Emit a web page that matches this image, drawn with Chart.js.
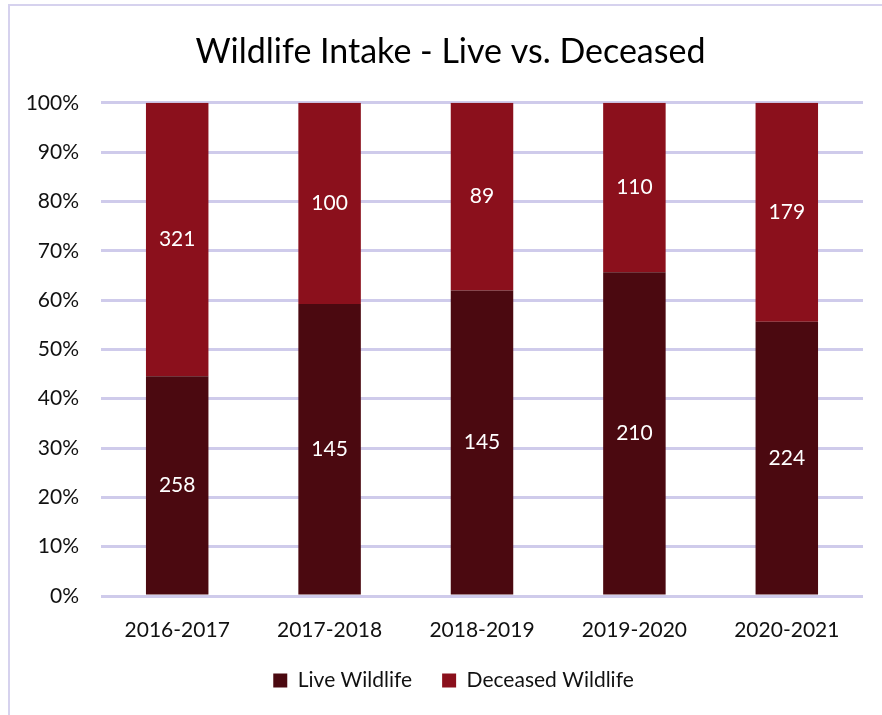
<!DOCTYPE html>
<html>
<head>
<meta charset="utf-8">
<title>Wildlife Intake</title>
<script src="https://cdn.jsdelivr.net/npm/chart.js@4.4.1/dist/chart.umd.min.js"></script>
<style>
  html, body { margin: 0; padding: 0; background: #fff; }
  #wrap { position: relative; width: 882px; height: 715px; }
</style>
</head>
<body>
<div id="wrap"><canvas id="grafico" width="882" height="715"></canvas></div>
<script>
const years = ['2016-2017', '2017-2018', '2018-2019', '2019-2020', '2020-2021'];
const liveWildlife = [258, 145, 145, 210, 224];
const deceasedWildlife = [321, 100, 89, 110, 179];
const yTicks = [0, 10, 20, 30, 40, 50, 60, 70, 80, 90, 100];

const FONT = 'Lato, "Open Sans", sans-serif';

// share of each year's total, so the stacks reach 100%
const totals = years.map((_, i) => liveWildlife[i] + deceasedWildlife[i]);
const livePct = liveWildlife.map((v, i) => v / totals[i] * 100);
const deceasedPct = deceasedWildlife.map((v, i) => v / totals[i] * 100);

// counts written in the middle of each segment
const countLabels = {
  id: 'countLabels',
  afterDatasetsDraw(chart) {
    const ctx = chart.ctx;
    const counts = [liveWildlife, deceasedWildlife];
    ctx.save();
    ctx.fillStyle = '#fff';
    ctx.font = '21px ' + FONT;
    ctx.textAlign = 'center';
    ctx.textBaseline = 'middle';
    chart.data.datasets.forEach((ds, d) => {
      chart.getDatasetMeta(d).data.forEach((bar, i) => {
        const mid = (bar.y + bar.base) / 2;
        ctx.fillText(String(counts[d][i]), bar.x, mid);
      });
    });
    ctx.restore();
  }
};

// thin frame around the chart
const frame = {
  id: 'frame',
  beforeDraw(chart) {
    const ctx = chart.ctx;
    ctx.save();
    ctx.strokeStyle = '#D6D2EE';
    ctx.lineWidth = 2;
    ctx.strokeRect(9, 5, 900, 750);
    ctx.restore();
  }
};

// title and legend sit a little right of the canvas centre
const nudge = {
  id: 'nudge',
  afterLayout(chart) {
    const shift = (box, dx) => { if (box) { box.left += dx; box.right += dx; } };
    shift(chart.titleBlock, 9);
    shift(chart.legend, 12);
  }
};

const ctx = document.getElementById('grafico');

new Chart(ctx, {
  type: 'bar',
  data: {
    labels: years,
    datasets: [
      {
        label: 'Live Wildlife',
        data: livePct,
        backgroundColor: '#4B0910'
      },
      {
        label: 'Deceased Wildlife',
        data: deceasedPct,
        backgroundColor: '#8B101C'
      }
    ]
  },
  options: {
    responsive: false,
    animation: false,
    layout: { padding: { left: 20, right: 19, top: 26, bottom: 14 } },
    datasets: { bar: { categoryPercentage: 1, barPercentage: 0.41 } },
    plugins: {
      title: {
        display: true,
        text: 'Wildlife Intake - Live vs. Deceased',
        color: '#000',
        font: { family: FONT, size: 34, weight: 'normal' },
        padding: { top: 6, bottom: 30 }
      },
      legend: {
        position: 'bottom',
        labels: {
          color: '#111',
          font: { family: FONT, size: 21 },
          boxWidth: 14,
          boxHeight: 14,
          padding: 30
        }
      },
      tooltip: { enabled: false }
    },
    scales: {
      x: {
        stacked: true,
        afterFit: s => { s.height = 44; },
        grid: { display: false },
        border: { display: false },
        ticks: { color: '#111', font: { family: FONT, size: 21 }, padding: 14 }
      },
      y: {
        stacked: true,
        min: 0,
        max: 100,
        afterBuildTicks: s => { s.ticks = yTicks.map(v => ({ value: v })); },
        afterFit: s => { s.width = 81; },
        grid: { color: '#CFCBEB', lineWidth: 3, drawTicks: false },
        border: { display: false },
        ticks: {
          color: '#111',
          font: { family: FONT, size: 21 },
          padding: 22,
          callback: v => v + '%'
        }
      }
    }
  },
  plugins: [frame, nudge, countLabels]
});
</script>
</body>
</html>
